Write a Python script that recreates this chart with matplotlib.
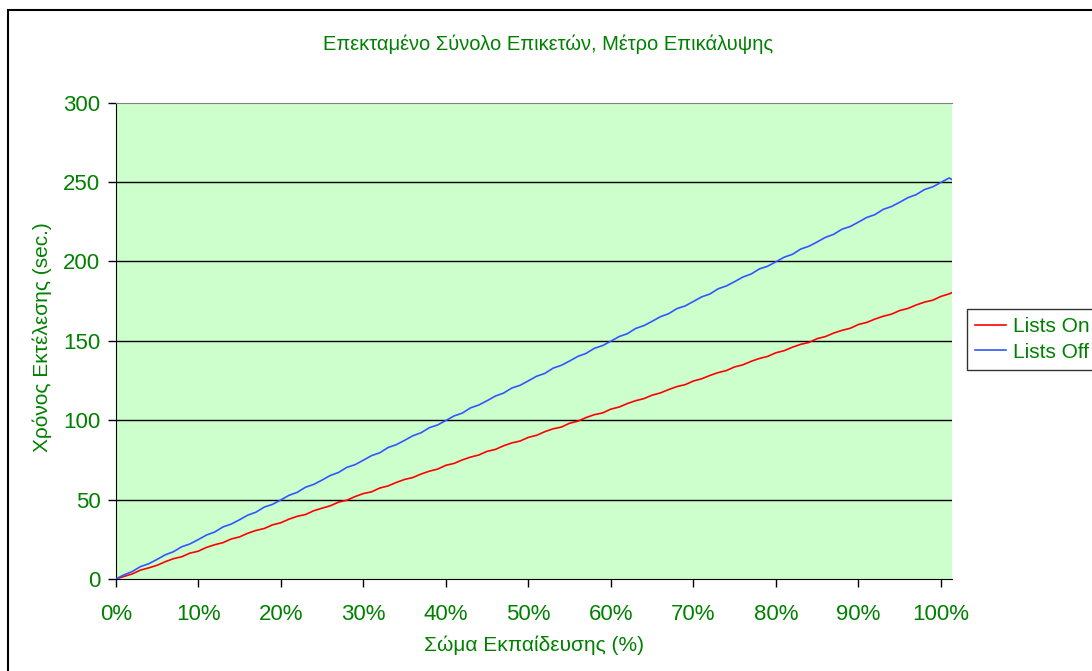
import matplotlib
matplotlib.use("Agg")
import matplotlib.pyplot as plt
from matplotlib.patches import Rectangle
from matplotlib.ticker import FuncFormatter

x_pct = list(range(0, 102)) + [101.3]

lists_on = [0, 1.6, 3.2, 5.6, 7.0, 8.6, 10.9, 12.8, 14.0, 16.3, 17.5,
            19.9, 21.6, 22.9, 25.2, 26.5, 28.8, 30.6, 31.8, 34.1, 35.4,
            37.7, 39.5, 40.6, 43.0, 44.6, 46.1, 48.4, 49.6, 51.9, 53.8,
            54.9, 57.3, 58.6, 60.8, 62.7, 63.9, 66.1, 67.9, 69.2, 71.6,
            72.8, 75.0, 76.8, 78.1, 80.4, 81.6, 83.9, 85.7, 86.9, 89.2,
            90.5, 92.8, 94.6, 95.7, 98.1, 99.4, 101.7, 103.5, 104.6, 107.0,
            108.3, 110.5, 112.3, 113.6, 115.8, 117.2, 119.3, 121.2, 122.4, 124.7,
            126.1, 128.2, 130.0, 131.3, 133.6, 134.9, 137.1, 138.9, 140.2, 142.5,
            143.8, 146.0, 147.8, 149.0, 151.4, 152.7, 154.9, 156.6, 157.9, 160.3,
            161.6, 163.7, 165.5, 166.8, 169.1, 170.4, 172.6, 174.4, 175.6, 178.0,
            179.6, 180.3]

lists_off = [0, 2.6, 4.7, 7.8, 9.6, 12.3, 15.2, 17.2, 20.3, 22.1, 24.8,
             27.7, 29.6, 32.8, 34.6, 37.3, 40.2, 42.1, 45.3, 47.0, 49.8,
             52.7, 54.6, 57.8, 59.6, 62.3, 65.2, 67.1, 70.3, 72.0, 74.8,
             77.7, 79.5, 82.8, 84.6, 87.3, 90.2, 92.1, 95.3, 97.0, 99.8,
             102.7, 104.5, 107.8, 109.6, 112.3, 115.2, 117.1, 120.3, 122.0, 124.8,
             127.7, 129.5, 132.8, 134.6, 137.3, 140.2, 142.1, 145.3, 147.0, 149.8,
             152.7, 154.5, 157.8, 159.6, 162.3, 165.2, 167.1, 170.3, 172.0, 174.8,
             177.7, 179.5, 182.8, 184.6, 187.3, 190.2, 192.1, 195.3, 197.0, 199.8,
             202.7, 204.5, 207.8, 209.6, 212.3, 215.2, 217.1, 220.3, 222.0, 224.8,
             227.7, 229.5, 232.8, 234.6, 237.3, 240.2, 242.1, 245.3, 247.0, 249.8,
             252.6, 251.7]

x_ticks = [0, 10, 20, 30, 40, 50, 60, 70, 80, 90, 100]
y_ticks = [0, 50, 100, 150, 200, 250, 300]

title = "Επεκταμένο Σύνολο Επικετών, Μέτρο Επικάλυψης"
xlabel = "Σώμα Εκπαίδευσης (%)"
ylabel = "Χρόνος Εκτέλεσης (sec.)"

GREEN = "#008000"
plt.rcParams["font.family"] = ["Liberation Sans", "DejaVu Sans"]

W, H = 1092, 671
fig = plt.figure(figsize=(W / 100, H / 100), dpi=100)
fig.patch.set_facecolor("white")

# outer chart border
fig.add_artist(Rectangle((8 / W, -0.1), 1.2, 1.1 - 10 / H, transform=fig.transFigure,
                         fill=False, edgecolor="black", linewidth=1.5))

ax = fig.add_axes([115.7 / W, 1 - 579 / H, (951.7 - 115.7) / W, (579 - 102.7) / H])
ax.set_facecolor("#CCFFCC")
ax.set_xlim(0, 101.3)
ax.set_ylim(0, 300)

ax.plot(x_pct, lists_on, color="#FF0000", linewidth=1.2, label="Lists On", zorder=3)
ax.plot(x_pct, lists_off, color="#3355FF", linewidth=1.2, label="Lists Off", zorder=3)

ax.set_xticks(x_ticks)
ax.set_yticks(y_ticks)
ax.xaxis.set_major_formatter(FuncFormatter(lambda v, p: f"{int(v)}%"))
ax.tick_params(axis="both", colors="black", labelcolor=GREEN, labelsize=16,
               direction="out", length=6, width=1)
ax.tick_params(axis="x", pad=12)
ax.tick_params(axis="y", pad=5)

for yv in y_ticks[1:-1]:
    ax.axhline(yv, color="black", linewidth=1.0, zorder=1)

ax.spines["left"].set_color("black")
ax.spines["bottom"].set_color("black")
ax.spines["top"].set_color("#808080")
ax.spines["right"].set_visible(False)

fig.text(548 / W, 1 - 44 / H, title, color=GREEN,
         fontsize=14.5, ha="center", va="center")
fig.text((425 + 643) / 2 / W, 1 - 645 / H, xlabel, color=GREEN, fontsize=15,
         ha="center", va="center")
fig.text(42 / W, 1 - 337 / H, ylabel, color=GREEN, fontsize=15, rotation=90,
         ha="center", va="center")

leg = fig.legend(loc="upper left", bbox_to_anchor=(966.7 / W, 1 - 309 / H),
                 frameon=True, fancybox=False, fontsize=15, handlelength=1.5,
                 borderpad=0.4, labelspacing=0.3, handletextpad=0.3, borderaxespad=0)
leg.get_frame().set_edgecolor("black")
leg.get_frame().set_linewidth(1.0)
for t in leg.get_texts():
    t.set_color(GREEN)

fig.savefig("out.png", dpi=100)
